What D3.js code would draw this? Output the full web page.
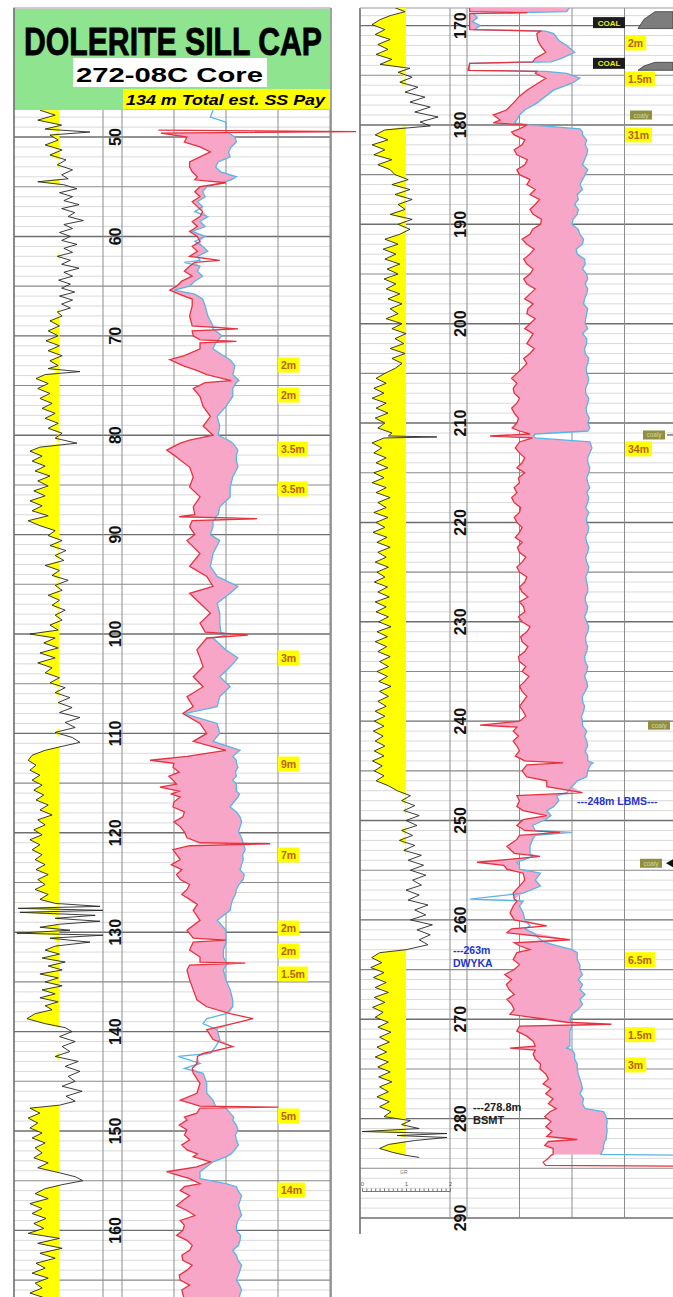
<!DOCTYPE html>
<html>
<head>
<meta charset="utf-8">
<script src="https://cdn.jsdelivr.net/npm/d3@7"></script>
<style>
body { margin: 0; background: #fff; }
svg { display: block; }
text { font-family: "Liberation Sans", Arial, sans-serif; }
</style>
</head>
<body>
<svg id="chart" width="673" height="1297"></svg>
<script>
// density / neutron rows: [depth m, red curve, blue curve] in track divisions (0-4)
var upperDN = [
  [47.3,null,1.75],[48.0,null,1.7],[48.5,null,2.0],[49.0,null,2.0],
  [49.3,0.7,2.0],[49.45,4.5,2.0],[49.6,0.75,2.05],[50.0,1.25,2.17],[50.5,1.2,2.2],[51.0,1.5,2.1],
  [51.5,1.7,2.05],[52.0,1.5,2.08],[52.5,1.3,1.85],[53.0,1.3,1.8],[53.5,1.35,1.9],[54.0,1.45,2.2],
  [54.3,1.4,2.1],[54.6,2.0,1.9],[55.0,1.5,1.63],[55.5,1.4,1.55],[56,1.5,1.6],[56.5,1.35,1.45],[57,1.45,1.55],
  [57.5,1.55,1.4],[58,1.5,1.65],[58.5,1.35,1.5],[59,1.45,1.6],[59.5,1.3,1.35],[60,1.45,1.6],[60.5,1.5,1.4],
  [61,1.35,1.55],[61.5,1.45,1.65],[62,1.3,1.45],[62.4,1.88,1.5],[62.6,1.4,1.2],[63,1.3,1.5],[63.5,1.2,1.45],
  [64,1.35,1.55],[64.5,1.15,1.4],[65,1.05,1.3],[65.4,0.92,1.0],[65.8,1.1,1.4],[66.3,1.35,1.55],[67,1.35,1.6],
  [68,1.3,1.65],[69.0,1.35,1.75],[69.3,2.23,1.75],[69.5,1.35,1.8],[70.0,1.37,1.92],
  [70.4,1.5,1.85],[70.55,2.2,1.85],[70.7,1.5,1.8],[71.3,1.5,1.75],[72.0,1.2,1.95],[72.4,0.92,2.08],
  [73.0,1.17,2.17],[73.5,1.45,2.15],[73.9,1.63,2.13],[74.5,2.1,2.25],[74.7,1.6,2.2],[75.3,1.37,2.13],
  [76.1,1.5,2.13],[77.1,1.56,2.0],[78.1,1.7,1.83],[79.1,1.56,1.88],[80.0,1.75,1.85],[80.5,1.3,2.05],
  [80.8,1.12,2.13],[81.5,0.86,2.23],[82.0,1.0,2.2],[82.5,1.12,2.2],[83.2,1.3,2.23],[84.2,1.37,2.13],
  [85.2,1.3,2.08],[86.2,1.5,2.08],[87.2,1.37,1.88],[88.0,1.4,1.85],[88.2,1.1,1.8],[88.4,2.6,1.8],
  [88.6,1.35,1.75],[89.2,1.3,1.75],[90.0,1.4,1.7],[90.6,1.25,1.88],[91.9,1.5,1.75],[93.2,1.3,1.7],
  [94.2,1.63,1.83],[95.2,1.75,2.23],[95.9,1.3,2.08],[96.9,1.5,1.83],[97.9,1.7,1.88],[98.9,1.5,1.88],
  [99.8,1.6,1.9],[100.1,2.42,2.0],[100.4,1.63,1.75],[101.6,1.44,2.0],[102.4,1.5,2.23],[103.3,1.56,2.08],
  [104.3,1.37,1.88],[105.3,1.56,2.08],[106.3,1.25,1.88],[107.3,1.37,1.83],[108.0,1.17,1.2],[109.0,1.5,1.83],
  [110.0,1.63,1.88],[110.8,1.37,1.75],[111.7,2.0,2.27],[112.3,1.25,2.13],[112.7,0.54,2.2],[113.0,1.0,2.2],
  [113.4,0.98,2.23],[113.9,1.1,2.18],[114.3,0.9,2.2],[114.7,0.98,2.13],[115.1,1.05,2.2],[115.4,0.73,2.2],
  [115.8,1.1,2.2],[116.1,0.95,2.26],[116.4,1.12,2.23],[116.9,1.0,2.15],[117.4,0.98,2.08],[117.9,1.2,2.2],
  [118.4,1.17,2.27],[118.9,1.0,2.3],[119.4,1.12,2.27],[119.9,1.2,2.24],[120.5,1.25,2.3],[121.0,1.5,2.33],
  [121.1,2.85,2.35],[121.3,1.3,2.35],[121.7,0.98,2.37],[122.2,1.05,2.32],[122.7,1.12,2.33],[123.2,0.95,2.3],
  [123.7,1.15,2.27],[124.2,1.05,2.35],[124.7,1.12,2.33],[125.2,1.3,2.25],[125.7,1.25,2.2],[126.2,1.15,2.18],
  [126.7,1.3,2.13],[127.2,1.45,2.1],[127.8,1.37,2.08],[128.8,1.5,1.83],[129.8,1.25,2.0],[130.6,1.37,2.0],
  [130.8,2.0,2.0],[131.0,1.37,2.0],[131.8,1.3,1.95],[132.5,1.5,1.95],[133.0,1.5,2.0],[133.1,2.37,2.05],
  [133.3,1.3,2.0],[133.8,1.25,1.95],[134.8,1.3,2.0],[135.8,1.37,2.08],[136.8,1.44,2.13],[137.5,1.63,2.13],
  [138.2,2.08,2.0],[138.7,2.52,1.63],[139.2,2.13,1.56],[139.8,1.63,1.83],[140.8,1.75,1.88],[141.5,2.13,1.8],
  [142.2,1.56,1.7],[142.5,1.45,1.08],[143.2,1.44,1.5],[143.7,1.35,1.2],[144.2,1.37,1.56],[145.2,1.5,1.63],
  [146.2,1.44,1.63],[146.9,1.12,1.75],[147.5,1.5,1.8],[147.6,3.0,1.9],[147.7,1.5,2.0],[148.2,1.44,2.08],
  [148.6,1.2,2.15],[148.9,1.25,2.13],[149.4,1.1,2.2],[149.9,1.25,2.23],[150.4,1.2,2.18],[150.9,1.3,2.2],
  [151.4,1.15,2.24],[151.9,1.25,2.17],[152.3,1.45,2.1],[152.6,1.37,2.0],[153.1,1.7,1.75],[153.6,1.44,1.63],
  [154.1,0.86,1.5],[154.8,1.3,1.5],[155.3,1.5,2.0],[155.6,1.2,2.2],[156.0,1.12,2.23],[156.5,1.3,2.3],
  [157.0,1.17,2.27],[157.5,1.05,2.24],[158.0,1.25,2.27],[158.5,1.4,2.3],[159.0,1.12,2.23],[159.5,1.2,2.2],
  [160.0,1.17,2.2],[160.5,1.05,2.28],[161.0,1.25,2.27],[161.5,1.35,2.24],[162.0,1.3,2.13],[162.5,1.15,2.2],
  [163.0,1.17,2.23],[163.5,1.35,2.3],[164.0,1.25,2.27],[164.5,1.1,2.24],[165.0,1.12,2.2],[165.5,1.3,2.26],
  [166.0,1.15,2.3],[166.4,1.17,2.27],[167.0,1.2,2.25]
];

var lowerDN = [
  [168.2,0.05,1.95],[168.6,0.05,1.9],[168.7,1.15,1.0],[168.8,0.05,0.12],[169.2,0.05,0.2],[169.6,0.05,0.1],
  [170.0,0.05,0.25],[170.4,0.05,0.15],[170.55,1.4,1.5],[170.8,1.33,1.65],[171.5,1.35,1.75],[172.0,1.4,1.9],
  [172.7,1.5,2.05],[173.3,1.3,1.8],[173.65,1.25,1.6],[173.8,0.05,0.05],[174.5,0.02,0.05],[174.6,1.33,1.5],
  [174.8,1.3,1.9],[175.3,1.5,2.15],[175.8,1.35,2.0],[176.5,1.14,1.65],[177.1,1.0,1.5],[177.8,0.88,1.33],
  [178.5,0.75,1.1],[179.0,0.5,1.0],[179.5,0.63,0.95],[179.8,0.5,0.9],[180.0,1.14,1.2],[180.4,1.0,2.15],
  [180.7,0.85,2.2],[181,0.9,2.2],[181.5,1.1,2.28],[182,1.05,2.25],[182.5,0.9,2.3],[183,0.95,2.28],
  [183.5,1.15,2.24],[184,1.1,2.2],[184.5,0.95,2.3],[185,1.0,2.25],[185.5,1.2,2.2],[186,1.14,2.15],
  [186.5,1.3,2.2],[187,1.2,2.1],[187.5,1.38,2.12],[188,1.3,2.05],[188.5,1.2,2.12],[189,1.26,2.1],
  [189.5,1.42,2.02],[190,1.4,2.0],[190.5,1.25,2.12],[191,1.2,2.15],[191.5,1.05,2.22],[192,1.14,2.2],
  [192.5,1.28,2.08],[193,1.2,2.1],[193.5,1.08,2.24],[194,1.14,2.25],[194.5,1.26,2.2],[195,1.2,2.28],
  [195.5,1.08,2.3],[196,1.14,2.25],[196.5,1.3,2.3],[197,1.2,2.28],[197.5,1.1,2.24],[198,1.26,2.22],
  [198.5,1.16,2.3],[199,1.14,2.28],[199.5,1.3,2.26],[200,1.2,2.25],[200.5,1.1,2.3],[201,1.26,2.2],
  [201.5,1.2,2.28],[202,1.14,2.28],[202.5,1.28,2.24],[203,1.2,2.25],[203.5,1.08,2.32],[204,1.14,2.3],
  [204.5,1.05,2.27],[205,0.95,2.28],[205.5,0.85,2.32],[206,0.95,2.3],[206.5,0.88,2.26],[207,0.9,2.26],
  [207.5,1.0,2.32],[208,0.95,2.3],[208.5,0.85,2.27],[209,0.9,2.28],[209.5,0.98,2.33],[210,0.95,2.3],
  [210.5,0.86,2.34],[210.8,1.0,2.3],[211.1,1.2,1.3],[211.3,0.44,1.27],[211.5,1.25,1.3],[211.9,1.0,2.34],
  [212.5,0.92,2.38],[213,1.0,2.34],[213.5,1.1,2.3],[214,1.05,2.3],[214.5,0.95,2.34],[215,1.1,2.32],
  [215.5,0.98,2.28],[216,1.0,2.3],[216.5,0.9,2.34],[217,0.95,2.28],[217.5,0.85,2.32],[218,0.9,2.3],
  [218.5,1.02,2.26],[219,1.0,2.32],[219.5,0.9,2.28],[220,0.95,2.28],[220.5,1.05,2.32],[221,1.0,2.3],
  [221.5,0.92,2.26],[222,1.05,2.28],[222.5,0.96,2.32],[223,1.0,2.3],[223.5,1.12,2.26],[224,1.05,2.28],
  [224.5,0.95,2.32],[225,1.0,2.3],[225.5,1.14,2.26],[226,1.1,2.28],[226.5,1.0,2.3],[227,1.05,2.3],
  [227.5,1.16,2.25],[228,1.0,2.26],[228.5,1.08,2.3],[229,1.1,2.28],[229.5,0.98,2.24],[230,1.05,2.28],
  [230.5,1.2,2.32],[231,1.14,2.3],[231.5,1.02,2.26],[232,1.05,2.26],[232.5,1.16,2.3],[233,1.1,2.28],
  [233.5,0.98,2.24],[234,1.0,2.25],[234.5,1.12,2.3],[235,1.05,2.28],[235.5,1.18,2.24],[236,1.1,2.28],
  [236.5,1.0,2.3],[237,1.05,2.25],[237.5,1.14,2.2],[238,1.07,2.2],[238.5,1.0,2.24],[239,1.07,2.22],
  [239.5,1.12,2.18],[240.0,1.0,2.2],[240.4,0.25,2.2],[240.6,0.95,2.22],[241,0.88,2.28],[241.5,0.98,2.24],
  [242,0.88,2.28],[242.5,0.95,2.3],[243,1.0,2.25],[243.5,0.92,2.3],[244,1.1,2.3],[244.2,1.83,2.4],
  [244.4,1.14,2.35],[245.0,1.05,2.3],[245.6,1.14,2.28],[246.0,1.52,2.1],[246.6,1.52,2.0],[247.2,2.2,1.9],
  [247.5,0.95,1.71],[248.0,1.0,1.75],[248.6,0.95,1.65],[249.0,1.07,1.52],[249.5,1.52,1.6],[249.9,1.07,1.5],
  [250.5,0.95,1.25],[251.0,1.1,1.3],[251.2,1.77,2.0],[251.5,1.0,1.3],[251.9,0.95,1.25],[252.6,0.76,1.2],
  [253.3,0.9,1.2],[253.6,1.39,1.25],[253.9,0.8,1.1],[254.2,0.19,0.95],[254.5,0.7,1.0],[254.9,0.76,1.0],
  [255.3,1.07,1.4],[256.0,1.1,1.3],[256.6,1.0,1.4],[257.3,0.88,1.07],[257.9,0.9,0.06],[258.1,0.95,1.07],
  [258.6,0.88,1.0],[259.3,0.82,1.07],[260.0,0.9,1.1],[260.6,1.52,1.2],[260.9,0.85,1.1],[261.3,0.76,1.26],
  [262.0,1.96,1.4],[262.3,0.9,1.5],[262.6,1.0,1.71],[263.0,1.2,2.0],[263.3,0.95,2.1],[264.0,0.88,2.1],
  [264.5,1.0,2.15],[265.0,0.9,2.15],[265.5,0.72,2.2],[266.0,0.85,2.12],[266.5,0.75,2.2],[267.0,0.8,2.15],
  [267.5,0.9,2.25],[268.0,0.76,2.15],[268.5,0.85,2.2],[269.0,0.9,2.12],[269.5,0.82,2.0],[270.0,1.5,1.96],
  [270.3,1.9,1.98],[270.5,2.75,2.0],[270.7,1.0,2.0],[271.2,0.95,1.96],[271.7,1.14,1.96],[272.2,1.26,1.96],
  [272.7,1.3,1.96],[272.9,0.82,1.9],[273.1,1.3,2.0],[273.5,1.26,2.05],[274.0,1.3,2.05],[274.5,1.4,2.1],
  [275.0,1.39,2.1],[275.5,1.5,2.12],[276.0,1.55,2.15],[276.5,1.45,2.18],[277.0,1.6,2.2],[277.5,1.5,2.15],
  [278.0,1.64,2.22],[278.5,1.55,2.2],[279.0,1.7,2.25],[279.3,1.58,2.6],[279.8,1.48,2.65],[280.3,1.6,2.67],
  [280.8,1.5,2.66],[281.3,1.62,2.67],[281.8,1.52,2.65],[282.1,2.1,2.65],[282.3,1.55,2.62],[282.7,1.48,2.6],
  [283.0,1.64,2.6],[283.6,1.64,2.55],[283.7,1.6,4.3],[284.0,1.55,null],[284.4,1.45,null],[284.7,1.5,null],
  [284.8,4.3,null]
];

// gamma ray rows: [depth m, GR] on a 0-2 scale, sand cutoff at 1
var upperGR = [
  [47.3,0.55],[47.8,0.9],[48.3,0.5],[48.8,1.05],[49.2,0.67],[49.5,1.7],[49.8,0.78],[50.3,0.97],[50.8,0.67],
  [51.3,1.06],[51.8,0.78],[52.3,1.15],[52.8,0.95],[53.3,1.3],[53.8,1.05],[54.2,1.2],[54.5,0.5],[54.8,1.1],
  [55.2,1.4],[55.6,1.0],[56.0,1.3],[56.4,1.1],[56.8,1.45],[57.2,1.05],[57.6,1.35],[58.0,1.2],[58.4,1.55],
  [58.8,1.1],[59.2,1.3],[59.6,1.0],[60.0,1.25],[60.4,1.05],[60.8,1.4],[61.2,1.1],[61.6,1.3],[62.0,0.95],
  [62.4,1.25],[62.8,1.05],[63.2,1.45],[63.6,1.1],[64.0,1.3],[64.4,0.98],[64.8,1.25],[65.2,1.05],[65.6,1.35],
  [66.0,1.0],[66.4,1.3],[66.8,1.05],[67.2,1.25],[67.6,0.95],[68,1.06],[68.5,0.78],[69,1.0],[69.5,0.74],
  [70,0.97],[70.5,0.69],[71,1.0],[71.5,0.74],[72,1.06],[72.5,0.78],[73,0.97],[73.3,0.74],[73.6,1.47],
  [73.9,0.67],[74.3,0.46],[74.8,0.74],[75.3,0.5],[75.8,0.78],[76.3,0.55],[76.8,0.83],[77.3,0.6],[77.8,0.9],
  [78.3,0.67],[78.8,0.97],[79.3,0.74],[79.8,1.06],[80.3,0.9],[80.8,1.4],[81.2,0.55],[81.6,0.32],[82.1,0.6],
  [82.6,0.37],[83.1,0.67],[83.6,0.44],[84.1,0.78],[84.6,0.5],[85.1,0.74],[85.6,0.41],[86.1,0.67],[86.6,0.32],
  [87.1,0.6],[87.6,0.37],[88.1,0.74],[88.6,0.28],[89.1,0.55],[89.6,0.9],[90.1,0.74],[90.6,1.06],[91.1,0.78],
  [91.6,1.15],[92.1,0.9],[92.6,1.1],[93.1,0.67],[93.6,1.0],[94.1,0.83],[94.6,1.2],[95.1,0.9],[95.6,1.06],
  [96.1,0.74],[96.6,1.0],[97.1,0.83],[97.6,1.13],[98.1,0.9],[98.6,1.06],[99.1,0.78],[99.6,0.97],[100.0,0.32],
  [100.4,0.9],[100.9,0.64],[101.4,0.97],[101.9,0.55],[102.4,0.9],[102.9,0.5],[103.4,0.83],[103.9,0.67],
  [104.4,1.0],[104.9,0.78],[105.4,1.13],[105.9,0.9],[106.4,1.24],[106.9,0.97],[107.4,1.29],[107.9,1.0],
  [108.4,1.47],[108.9,1.13],[109.4,1.36],[109.9,0.9],[110.4,1.29],[110.9,1.47],[111.3,1.06],[111.7,0.67],
  [112.2,0.37],[112.7,0.28],[113.2,0.46],[113.7,0.32],[114.2,0.55],[114.7,0.37],[115.2,0.6],[115.7,0.41],
  [116.2,0.64],[116.7,0.46],[117.2,0.74],[117.7,0.55],[118.2,0.83],[118.7,0.5],[119.2,0.67],[119.7,0.41],
  [120.2,0.6],[120.7,0.32],[121.2,0.55],[121.7,0.37],[122.2,0.6],[122.7,0.44],[123.2,0.67],[123.7,0.46],
  [124.2,0.74],[124.7,0.5],[125.2,0.67],[125.7,0.44],[126.2,0.74],[126.7,0.55],[127.1,0.9],[127.4,1.93],
  [127.6,0.05],[127.8,2.0],[128.0,0.09],[128.3,1.82],[128.6,0.9],[128.9,1.93],[129.2,1.0],[129.5,0.55],
  [129.8,1.24],[130.1,0.02],[130.3,2.0],[130.6,0.78],[131.0,1.7],[131.4,0.9],[131.8,0.67],[132.2,1.0],
  [132.6,0.6],[133.0,1.13],[133.4,0.74],[133.8,1.06],[134.2,0.55],[134.6,0.97],[135.0,0.67],[135.4,1.06],
  [135.8,0.6],[136.2,0.9],[136.6,0.55],[137.0,0.97],[137.4,0.67],[137.8,0.83],[138.2,0.44],[138.7,0.25],
  [139.2,0.67],[139.6,1.13],[140.0,1.29],[140.5,1.0],[141.0,1.36],[141.5,1.06],[142.0,1.24],[142.5,0.9],
  [143.0,1.43],[143.5,1.13],[144.0,1.47],[144.5,1.2],[145.0,1.36],[145.5,1.06],[146.0,1.52],[146.5,1.15],
  [147.0,1.36],[147.4,1.0],[147.7,0.32],[148.2,0.55],[148.7,0.28],[149.2,0.5],[149.7,0.32],[150.2,0.6],
  [150.7,0.37],[151.2,0.67],[151.7,0.44],[152.2,0.6],[152.7,0.41],[153.2,0.74],[153.7,0.5],[154.2,1.0],
  [154.6,1.36],[155.0,1.54],[155.4,1.06],[155.8,0.67],[156.3,0.44],[156.8,0.74],[157.3,0.32],[157.8,0.6],
  [158.3,0.37],[158.8,0.69],[159.3,0.41],[159.8,0.64],[160.3,0.28],[160.8,1.0],[161.3,0.5],[161.8,1.06],
  [162.3,0.55],[162.8,0.9],[163.3,0.46],[163.8,0.67],[164.3,0.37],[164.8,0.74],[165.3,0.44],[165.8,0.6],
  [166.3,0.32],[166.8,0.67]
];

var lowerGR = [
  [168.2,0.75],[168.6,0.98],[169.0,0.64],[169.4,0.41],[169.9,0.23],[170.4,0.52],[170.9,0.3],[171.4,0.64],
  [171.9,0.36],[172.4,0.59],[172.9,0.32],[173.4,0.68],[173.9,0.41],[174.3,1.09],[174.7,0.82],[175.2,1.14],
  [175.7,0.86],[176.2,1.27],[176.7,0.98],[177.2,1.43],[177.7,1.09],[178.2,1.55],[178.7,1.2],[179.2,1.73],
  [179.7,1.32],[180.1,1.55],[180.5,0.52],[181.0,0.3],[181.5,0.59],[182.0,0.23],[182.5,0.52],[183.0,0.27],
  [183.5,0.68],[184.0,0.36],[184.5,0.64],[185.0,0.75],[185.5,1.05],[186.0,0.68],[186.5,1.09],[187.0,0.75],
  [187.5,1.14],[188.0,0.82],[188.5,0.98],[189.0,0.64],[189.5,1.14],[190.0,0.82],[190.5,1.09],[191.0,0.86],
  [191.5,0.52],[192.0,0.82],[192.5,0.48],[193.0,0.77],[193.5,0.52],[194.0,0.86],[194.5,0.57],[195.0,0.82],
  [195.5,0.5],[196.0,0.77],[196.5,0.55],[197.0,0.86],[197.5,0.59],[198.0,0.91],[198.5,0.64],[199.0,0.82],
  [199.5,0.55],[200.0,0.91],[200.5,0.68],[201.0,1.0],[201.5,0.75],[202.0,0.95],[202.5,0.64],[203.0,0.98],
  [203.5,0.68],[204.0,0.91],[204.5,0.75],[205.0,0.52],[205.5,0.32],[206.0,0.55],[206.5,0.27],[207.0,0.5],
  [207.5,0.23],[208.0,0.55],[208.5,0.32],[209.0,0.59],[209.5,0.3],[210.0,0.52],[210.5,0.36],[211.0,0.68],
  [211.3,0.6],[211.4,1.7],[211.5,0.5],[212.0,0.23],[212.5,0.45],[213.0,0.27],[213.5,0.55],[214.0,0.32],
  [214.5,0.59],[215.0,0.27],[215.5,0.5],[216.0,0.23],[216.5,0.55],[217.0,0.32],[217.5,0.64],[218.0,0.36],
  [218.5,0.55],[219.0,0.27],[219.5,0.59],[220.0,0.32],[220.5,0.52],[221.0,0.25],[221.5,0.57],[222.0,0.34],
  [222.5,0.64],[223.0,0.36],[223.5,0.55],[224,0.3],[224.5,0.6],[225,0.34],[225.5,0.52],[226,0.28],
  [226.5,0.58],[227,0.36],[227.5,0.62],[228,0.3],[228.5,0.55],[229,0.32],[229.5,0.6],[230,0.38],
  [230.5,0.66],[231,0.34],[231.5,0.58],[232,0.3],[232.5,0.56],[233,0.36],[233.5,0.64],[234,0.4],
  [234.5,0.6],[235,0.34],[235.5,0.58],[236,0.38],[236.5,0.66],[237,0.4],[237.5,0.6],[238,0.36],
  [238.5,0.55],[239,0.3],[239.5,0.52],[240,0.28],[240.5,0.5],[241,0.26],[241.5,0.48],[242,0.3],
  [242.5,0.52],[243,0.28],[243.5,0.5],[244,0.24],[244.5,0.46],[245,0.28],[245.5,0.5],[246,0.32],
  [246.5,0.6],[247,0.8],[247.5,1.1],[248,0.9],[248.5,1.2],[249,0.95],[249.5,1.3],[250,1.0],[250.5,1.25],
  [251,0.9],[251.5,1.15],[252,0.85],[252.5,1.2],[253,0.95],[253.5,1.35],[254,1.05],[254.5,1.4],[255,1.1],
  [255.5,1.45],[256,1.15],[256.5,1.35],[257,1.0],[257.5,1.3],[258,1.05],[258.5,1.5],[259,1.2],[259.5,1.45],
  [260,1.1],[260.5,1.6],[261,1.25],[261.5,1.55],[262,1.3],[262.5,1.5],[263,1.0],[263.3,0.4],[263.8,0.22],
  [264.3,0.45],[264.8,0.2],[265.3,0.5],[265.8,0.26],[266.3,0.55],[266.8,0.3],[267.3,0.6],[267.8,0.28],
  [268.3,0.52],[268.8,0.24],[269.3,0.48],[269.8,0.3],[270.3,0.6],[270.8,0.36],[271.3,0.66],[271.8,0.4],
  [272.3,0.62],[272.8,0.34],[273.3,0.56],[273.8,0.3],[274.3,0.6],[274.8,0.36],[275.3,0.64],[275.8,0.38],
  [276.3,0.68],[276.8,0.4],[277.3,0.6],[277.8,0.34],[278.3,0.62],[278.8,0.4],[279.3,0.66],[279.8,0.5],
  [280.2,1.1],[280.6,0.9],[281.0,1.3],[281.3,0.0],[281.5,1.93],[281.7,0.8],[281.9,1.93],[282.2,1.2],
  [282.6,0.6],[283.0,0.4],[283.4,0.7],[283.7,1.0],[283.9,1.3]
];

// net pay annotations: [depth m, label]
var upperPay = [[72.94,"2m"],[75.96,"2m"],[81.39,"3.5m"],[85.41,"3.5m"],[102.41,"3m"],[113.08,"9m"],
  [122.23,"7m"],[129.58,"2m"],[131.89,"2m"],[134.2,"1.5m"],[148.49,"5m"],[155.94,"14m"]];
var lowerPay = [[171.75,"2m"],[175.37,"1.5m"],[181.0,"31m"],[212.6,"34m"],[264.0,"6.5m"],[271.55,"1.5m"],[274.6,"3m"]];

var coalTags = [[169.7,"COAL"],[173.8,"COAL"]];
var coalBeds = [[168.6,170.3],[173.7,174.5]];
var coalyTags = [[179.0,630],[211.2,643],[240.4,648],[254.3,640]];

// formation tops: [depth m, first line, second line, colour]
var topsText = [[248,"---248m LBMS---",null,"#2336c8"],[263,"---263m","DWYKA","#2336c8"],[278.8,"---278.8m","BSMT","#222"]];

var svg = d3.select("#chart");

var panels = [
  {key:"upper", dTop:47.28, dBot:166.7, yTop:110, yBot:1297, grL:14, grR:103, depR:122, logR:330,
   dn:upperDN, gr:upperGR, pay:upperPay, payX:278},
  {key:"lower", dTop:168.23, dBot:290, yTop:8, yBot:1218, grL:360, grR:450, depR:467, logR:677,
   dn:lowerDN, gr:lowerGR, pay:lowerPay, payX:625}
];

//title block
svg.append("line").attr("x1",13).attr("x2",331).attr("y1",8).attr("y2",8)
  .attr("stroke","#999").attr("stroke-width",1);
svg.append("rect").attr("x",14).attr("y",9).attr("width",316).attr("height",101).attr("fill","#8fe58f");
svg.append("text").attr("x",24).attr("y",55)
  .attr("font-family","'Liberation Sans Narrow','Liberation Sans',Arial,sans-serif")
  .attr("font-weight","bold").attr("font-size",38)
  .attr("stroke","#000").attr("stroke-width",0.8)
  .attr("textLength",298).attr("lengthAdjust","spacingAndGlyphs")
  .text("DOLERITE SILL CAP");
svg.append("rect").attr("x",73).attr("y",58).attr("width",194).attr("height",29).attr("fill","#fff");
svg.append("text").attr("x",76).attr("y",82).attr("font-weight","bold").attr("font-size",21)
  .attr("textLength",187).attr("lengthAdjust","spacingAndGlyphs").text("272-08C Core");
svg.append("rect").attr("x",123).attr("y",89).attr("width",207).attr("height",20).attr("fill","#ffff00");
svg.append("text").attr("x",126).attr("y",105).attr("font-weight","bold").attr("font-style","italic")
  .attr("font-size",14.5).attr("textLength",199).attr("lengthAdjust","spacingAndGlyphs")
  .text("134 m Total est. SS Pay");

panels.forEach(function(p){
  var y = d3.scaleLinear().domain([p.dTop, p.dBot]).range([p.yTop, p.yBot]);
  var logX = d3.scaleLinear().domain([0, 4]).range([p.depR, p.logR]);
  var grX = d3.scaleLinear().domain([0, 2]).range([p.grL + 2, p.grR]);
  p.y = y; p.logX = logX; p.grX = grX;

  var g = svg.append("g").attr("class", p.key);

  svg.append("clipPath").attr("id","clip-" + p.key)
    .append("rect").attr("x",0).attr("y",p.yTop).attr("width",673).attr("height",p.yBot - p.yTop);

  //horizontal grid, every metre
  var grid = d3.range(Math.ceil(p.dTop), Math.floor(p.dBot) + 1);
  g.append("g").selectAll("line").data(grid).enter().append("line")
    .attr("x1", p.grL).attr("x2", Math.min(p.logR, 673))
    .attr("y1", function(d){ return y(d); }).attr("y2", function(d){ return y(d); })
    .attr("stroke", function(d){ return d % 10 === 0 ? "#6e6e6e" : (d % 5 === 0 ? "#8a8a8a" : "#cfcfcf"); })
    .attr("stroke-width", function(d){ return d % 10 === 0 ? 1.4 : (d % 5 === 0 ? 1.1 : 0.8); });

  //vertical track lines
  var vx = [p.grR, p.depR].concat([1,2,3,4].map(logX));
  g.append("g").selectAll("line").data(vx).enter().append("line")
    .attr("x1", function(d){ return d; }).attr("x2", function(d){ return d; })
    .attr("y1", p.yTop).attr("y2", p.yBot)
    .attr("stroke", "#8c8c8c").attr("stroke-width", 1);
  g.append("line").attr("x1", p.grL).attr("x2", p.grL)
    .attr("y1", p.key === "upper" ? 8 : p.yTop).attr("y2", p.key === "upper" ? p.yBot : 1234)
    .attr("stroke", "#6e6e6e").attr("stroke-width", 1.6);
  if(p.key === "lower"){
    g.append("line").attr("x1", p.grL).attr("x2", 673).attr("y1", p.yTop).attr("y2", p.yTop)
      .attr("stroke", "#9a9a9a").attr("stroke-width", 1);
  }

  var curves = g.append("g").attr("clip-path", "url(#clip-" + p.key + ")");

  //GR sand fill and curve
  curves.append("path").datum(p.gr)
    .attr("fill", "#ffff00")
    .attr("d", d3.area()
      .y(function(d){ return y(d[0]); })
      .x0(function(d){ return grX(Math.min(d[1], 1)); })
      .x1(grX(1)));
  curves.append("path").datum(p.gr)
    .attr("fill", "none").attr("stroke", "#262626").attr("stroke-width", 0.9)
    .attr("d", d3.line().y(function(d){ return y(d[0]); }).x(function(d){ return grX(d[1]); }));

  //density-neutron crossover fill
  curves.append("path").datum(p.dn)
    .attr("fill", "#f7a6c8")
    .attr("d", d3.area()
      .defined(function(d){ return d[1] != null && d[2] != null && d[2] < 4; })
      .y(function(d){ return y(d[0]); })
      .x0(function(d){ return logX(d[1]); })
      .x1(function(d){ return logX(Math.max(d[1], d[2])); }));
  curves.append("path").datum(p.dn)
    .attr("fill", "none").attr("stroke", "#56b6e6").attr("stroke-width", 1.3)
    .attr("d", d3.line().defined(function(d){ return d[2] != null; })
      .y(function(d){ return y(d[0]); }).x(function(d){ return logX(d[2]); }));
  curves.append("path").datum(p.dn)
    .attr("fill", "none").attr("stroke", "#e5323e").attr("stroke-width", 1.3)
    .attr("d", d3.line().defined(function(d){ return d[1] != null; })
      .y(function(d){ return y(d[0]); }).x(function(d){ return logX(d[1]); }));

  //depth labels
  var ticks = y.ticks(12).filter(function(d){ return d % 10 === 0; });
  g.append("g").selectAll("text").data(ticks).enter().append("text")
    .attr("transform", function(d){ return "translate(" + (p.depR - 1) + "," + y(d) + ") rotate(-90)"; })
    .attr("text-anchor", "middle").attr("font-weight", "bold").attr("font-size", 16).attr("fill", "#111")
    .text(function(d){ return d; });

  //pay labels
  var pay = g.append("g").selectAll("g").data(p.pay).enter().append("g")
    .attr("transform", function(d){ return "translate(" + p.payX + "," + y(d[0]) + ")"; });
  pay.append("rect").attr("y", -7.5).attr("height", 15).attr("fill", "#ffff00");
  var payText = pay.append("text").attr("x", 3).attr("y", 4).attr("font-weight", "bold")
    .attr("font-size", 10.5).attr("fill", "#b8600e").text(function(d){ return d[1]; });
  payText.each(function(){
    var w = this.getComputedTextLength();
    d3.select(this.parentNode).select("rect").attr("width", w + 6);
  });
});

//upper panel right border
svg.append("line").attr("x1",331).attr("x2",331).attr("y1",8).attr("y2",1297)
  .attr("stroke","#7a7a7a").attr("stroke-width",1.4);

var low = panels[1];

//coal beds and tags
svg.append("g").selectAll("path").data(coalBeds).enter().append("path")
  .attr("fill", "#7d7d7d").attr("stroke", "#3a3a3a").attr("stroke-width", 0.8)
  .attr("d", function(d){
    var t = low.y(d[0]), b = low.y(d[1]);
    return "M673," + t + "L655," + t + "L644," + (t + (b - t) * 0.45) + "L638," + b + "L673," + b + "Z";
  });
var coal = svg.append("g").selectAll("g").data(coalTags).enter().append("g")
  .attr("transform", function(d){ return "translate(593," + low.y(d[0]) + ")"; });
coal.append("rect").attr("y", -5.5).attr("width", 32).attr("height", 11).attr("fill", "#1c1c1c");
coal.append("text").attr("x", 16).attr("y", 3).attr("text-anchor", "middle").attr("font-weight", "bold")
  .attr("font-size", 8).attr("fill", "#eaea1e").text(function(d){ return d[1]; });

var coaly = svg.append("g").selectAll("g").data(coalyTags).enter().append("g")
  .attr("transform", function(d){ return "translate(" + d[1] + "," + low.y(d[0]) + ")"; });
coaly.append("rect").attr("y", -4.5).attr("width", 22).attr("height", 9).attr("fill", "#8f8f42");
coaly.append("text").attr("x", 11).attr("y", 2.5).attr("text-anchor", "middle").attr("font-size", 6.5)
  .attr("fill", "#d6d69a").text("coaly");
svg.append("path").attr("fill", "#111")
  .attr("d", "M666," + low.y(254.3) + "L673," + (low.y(254.3) - 4) + "L673," + (low.y(254.3) + 4) + "Z");
svg.append("line").attr("x1", 667).attr("x2", 673).attr("y1", low.y(211.2)).attr("y2", low.y(211.2))
  .attr("stroke", "#333").attr("stroke-width", 1);

//formation tops
topsText.forEach(function(t){
  var x = t[0] === 248 ? 577 : (t[0] === 263 ? 453 : 473);
  var fs = t[0] === 278.8 ? 11 : 10.5;
  svg.append("text").attr("x", x).attr("y", low.y(t[0]) + 4).attr("font-weight", "bold")
    .attr("font-size", fs).attr("fill", t[3]).text(t[1]);
  if(t[2]){
    svg.append("text").attr("x", x).attr("y", low.y(t[0]) + 17.5).attr("font-weight", "bold")
      .attr("font-size", fs).attr("fill", t[3]).text(t[2]);
  }
});

//GR scale under the lower log
var grAxis = d3.axisTop(low.grX)
  .tickValues(d3.range(0, 21).map(function(i){ return i / 10; }))
  .tickSize(2.5)
  .tickFormat(function(d){ return Math.abs(d - Math.round(d)) < 1e-6 ? d3.format("d")(d) : ""; });
var ga = svg.append("g").attr("transform", "translate(0,1191)").call(grAxis);
ga.selectAll("path,line").attr("stroke", "#777");
ga.selectAll("text").attr("font-size", 6).attr("fill", "#666").attr("font-family", "'Liberation Sans',Arial,sans-serif");
svg.append("text").attr("x", 400).attr("y", 1174).attr("font-size", 5).attr("fill", "#777").text("GR");
</script>
</body>
</html>
